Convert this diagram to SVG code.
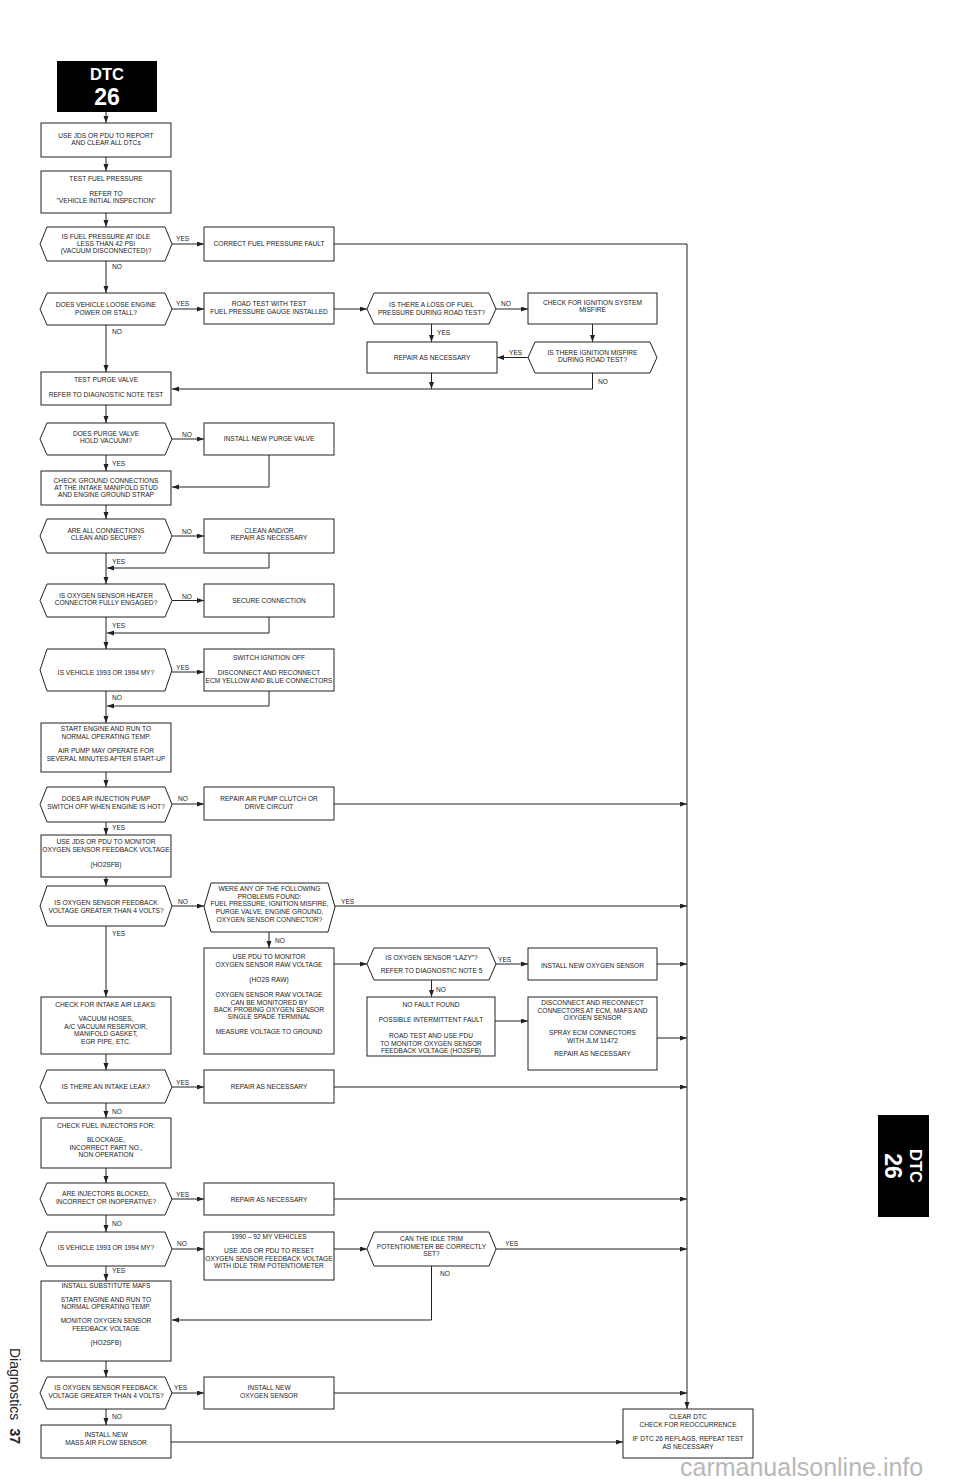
<svg xmlns="http://www.w3.org/2000/svg" width="960" height="1484" viewBox="0 0 960 1484">
<style>
.bx{fill:#fff;stroke:#222;stroke-width:1}
.t{font-family:"Liberation Sans",Arial,sans-serif;font-size:6.6px;fill:#1a1a1a;text-anchor:middle}
.l{font-family:"Liberation Sans",Arial,sans-serif;font-size:6.6px;fill:#1a1a1a;text-anchor:start}
.c{fill:none;stroke:#222;stroke-width:1}
.a{marker-end:url(#ah)}
.hd{font-family:"Liberation Sans",Arial,sans-serif;font-weight:bold;fill:#fff;text-anchor:middle}
</style>
<defs>
<marker id="ah" markerUnits="userSpaceOnUse" markerWidth="8" markerHeight="6" refX="7" refY="2.5" orient="auto">
<path d="M0,0 L7,2.5 L0,5 z" fill="#222"/>
</marker>
</defs>
<rect width="960" height="1484" fill="#fff"/>

<!-- header -->
<g id="hdr">
<rect x="57" y="61" width="100" height="51" fill="#000"/>
<text class="hd" x="107" y="80" font-size="16.5">DTC</text>
<text class="hd" x="107" y="105" font-size="23">26</text>
</g>

<g id="tab" transform="translate(903.5,1166) rotate(90)">
<rect x="-51" y="-25.5" width="102" height="51" fill="#000"/>
<text class="hd" x="0" y="-6.5" font-size="16.5">DTC</text>
<text class="hd" x="0" y="18.5" font-size="23">26</text>
</g>

<g id="footer" transform="translate(10,1348) rotate(90)">
<text font-family="Liberation Sans, Arial, sans-serif" font-size="14" fill="#222">Diagnostics<tspan dx="8" font-weight="bold">37</tspan></text>
</g>

<text x="680" y="1476" font-family="Liberation Sans, Arial, sans-serif" font-size="25" fill="#b8b8b8">carmanualsonline.info</text>

<!-- connectors -->
<g id="connectors">
<path class="c a" d="M106,112 V123"/>
<path class="c a" d="M106,157 V171"/>
<path class="c a" d="M106,213 V227"/>
<path class="c a" d="M172,244 H204"/>
<path class="c a" d="M334,244 H687 V1409"/>
<path class="c a" d="M106,261 V293"/>
<path class="c a" d="M172,309 H204"/>
<path class="c a" d="M334,309 H367"/>
<path class="c a" d="M496,309 H528"/>
<path class="c a" d="M592.5,324 V342"/>
<path class="c a" d="M528,357.5 H497"/>
<path class="c a" d="M431.5,324 V342"/>
<path class="c a" d="M592.5,373 V389 H172"/>
<path class="c a" d="M431.5,373 V389"/>
<path class="c a" d="M106,325 V372"/>
<path class="c a" d="M106,405 V423"/>
<path class="c a" d="M172,439 H204"/>
<path class="c a" d="M106,455 V471"/>
<path class="c a" d="M269,455 V487 H172"/>
<path class="c a" d="M106,505 V519"/>
<path class="c a" d="M172,536 H204"/>
<path class="c a" d="M106,553 V584"/>
<path class="c a" d="M269,553 V568 H107"/>
<path class="c a" d="M172,600.5 H204"/>
<path class="c a" d="M106,617 V649"/>
<path class="c a" d="M269,617 V633 H107"/>
<path class="c a" d="M172,672 H204"/>
<path class="c a" d="M106,691 V723"/>
<path class="c a" d="M269,691 V706 H107"/>
<path class="c a" d="M106,772 V787"/>
<path class="c a" d="M172,804 H204"/>
<path class="c a" d="M334,804 H687"/>
<path class="c a" d="M106,822 V835"/>
<path class="c a" d="M106,877 V886"/>
<path class="c a" d="M172,906 H204"/>
<path class="c a" d="M335,906 H687"/>
<path class="c a" d="M269,932 V948"/>
<path class="c a" d="M334,964 H367"/>
<path class="c a" d="M496,964 H528"/>
<path class="c a" d="M657,964 H687"/>
<path class="c a" d="M431.5,980 V997"/>
<path class="c a" d="M495,1021 H528"/>
<path class="c a" d="M657,1038 H687"/>
<path class="c a" d="M106,926 V997"/>
<path class="c a" d="M106,1054 V1070"/>
<path class="c a" d="M172,1087 H204"/>
<path class="c a" d="M334,1087 H687"/>
<path class="c a" d="M106,1103 V1118"/>
<path class="c a" d="M106,1168 V1183"/>
<path class="c a" d="M172,1199 H204"/>
<path class="c a" d="M334,1199 H687"/>
<path class="c a" d="M106,1215 V1232"/>
<path class="c a" d="M172,1249 H204"/>
<path class="c a" d="M334,1249 H367"/>
<path class="c a" d="M496,1249 H687"/>
<path class="c a" d="M431.5,1266 V1320 H172"/>
<path class="c a" d="M106,1266 V1281"/>
<path class="c a" d="M106,1361 V1377"/>
<path class="c a" d="M172,1393 H204"/>
<path class="c a" d="M334,1393 H687"/>
<path class="c a" d="M106,1409 V1425"/>
<path class="c a" d="M171,1442 H623"/>
<text class="l" x="176" y="241">YES</text>
<text class="l" x="112" y="268.5">NO</text>
<text class="l" x="176" y="306">YES</text>
<text class="l" x="112" y="333.5">NO</text>
<text class="l" x="501" y="306">NO</text>
<text class="l" x="437" y="334.5">YES</text>
<text class="l" x="509" y="354.5">YES</text>
<text class="l" x="598" y="383.5">NO</text>
<text class="l" x="182" y="436.5">NO</text>
<text class="l" x="112" y="465.5">YES</text>
<text class="l" x="182" y="533.5">NO</text>
<text class="l" x="112" y="563.5">YES</text>
<text class="l" x="182" y="598.5">NO</text>
<text class="l" x="112" y="627.5">YES</text>
<text class="l" x="176" y="669.5">YES</text>
<text class="l" x="112" y="699.5">NO</text>
<text class="l" x="178" y="801">NO</text>
<text class="l" x="112" y="829.5">YES</text>
<text class="l" x="178" y="903.5">NO</text>
<text class="l" x="112" y="935.5">YES</text>
<text class="l" x="341" y="903.5">YES</text>
<text class="l" x="275" y="942.5">NO</text>
<text class="l" x="498" y="962">YES</text>
<text class="l" x="436" y="991.5">NO</text>
<text class="l" x="176" y="1084.5">YES</text>
<text class="l" x="112" y="1113.5">NO</text>
<text class="l" x="176" y="1196.5">YES</text>
<text class="l" x="112" y="1225.5">NO</text>
<text class="l" x="177" y="1245.5">NO</text>
<text class="l" x="112" y="1272.5">YES</text>
<text class="l" x="505" y="1245.5">YES</text>
<text class="l" x="440" y="1275.5">NO</text>
<text class="l" x="174" y="1389.5">YES</text>
<text class="l" x="112" y="1418.5">NO</text>
</g>

<!-- nodes -->
<g id="n1"><rect class="bx" x="41" y="123" width="130" height="34"/>
<text class="t" x="106" y="137.5">USE JDS OR PDU TO REPORT</text>
<text class="t" x="106" y="145">AND CLEAR ALL DTCs</text></g>

<g id="n2"><rect class="bx" x="41" y="171" width="130" height="42"/>
<text class="t" x="106" y="180.5">TEST FUEL PRESSURE</text>
<text class="t" x="106" y="195.5">REFER TO</text>
<text class="t" x="106" y="203">"VEHICLE INITIAL INSPECTION"</text></g>

<g id="d1"><path class="bx" d="M40,244 L47,227 L165,227 L172,244 L165,261 L47,261 Z"/>
<text class="t" x="106" y="239.4">IS FUEL PRESSURE AT IDLE</text>
<text class="t" x="106" y="246.4">LESS THAN 42 PSI</text>
<text class="t" x="106" y="253.4">(VACUUM DISCONNECTED)?</text></g>

<g id="n3"><rect class="bx" x="204" y="227" width="130" height="34"/>
<text class="t" x="269" y="246.4">CORRECT FUEL PRESSURE FAULT</text></g>

<g id="d2"><path class="bx" d="M40,309 L47,293 L165,293 L172,309 L165,325 L47,325 Z"/>
<text class="t" x="106" y="307">DOES VEHICLE LOOSE ENGINE</text>
<text class="t" x="106" y="314.5">POWER OR STALL?</text></g>

<g id="n4"><rect class="bx" x="204" y="293" width="130" height="31"/>
<text class="t" x="269" y="306">ROAD TEST WITH TEST</text>
<text class="t" x="269" y="313.5">FUEL PRESSURE GAUGE INSTALLED</text></g>

<g id="d3"><path class="bx" d="M367,309 L374,293 L489,293 L496,309 L489,324 L374,324 Z"/>
<text class="t" x="431.5" y="307">IS THERE A LOSS OF FUEL</text>
<text class="t" x="431.5" y="314.5">PRESSURE DURING ROAD TEST?</text></g>

<g id="n5"><rect class="bx" x="528" y="293" width="129" height="31"/>
<text class="t" x="592.5" y="305">CHECK FOR IGNITION SYSTEM</text>
<text class="t" x="592.5" y="312">MISFIRE</text></g>

<g id="n6"><rect class="bx" x="367" y="342" width="130" height="31"/>
<text class="t" x="432" y="359.5">REPAIR AS NECESSARY</text></g>

<g id="d4"><path class="bx" d="M528,357.5 L535,342 L650,342 L657,357.5 L650,373 L535,373 Z"/>
<text class="t" x="592.5" y="355">IS THERE IGNITION MISFIRE</text>
<text class="t" x="592.5" y="362">DURING ROAD TEST?</text></g>

<g id="n7"><rect class="bx" x="41" y="372" width="130" height="33"/>
<text class="t" x="106" y="381.5">TEST PURGE VALVE</text>
<text class="t" x="106" y="396.5">REFER TO DIAGNOSTIC NOTE TEST</text></g>

<g id="d5"><path class="bx" d="M40,439 L47,423 L165,423 L172,439 L165,455 L47,455 Z"/>
<text class="t" x="106" y="436.4">DOES PURGE VALVE</text>
<text class="t" x="106" y="443.4">HOLD VACUUM?</text></g>

<g id="n8"><rect class="bx" x="204" y="423" width="130" height="32"/>
<text class="t" x="269" y="441.4">INSTALL NEW PURGE VALVE</text></g>

<g id="n9"><rect class="bx" x="41" y="471" width="130" height="34"/>
<text class="t" x="106" y="482.5">CHECK GROUND CONNECTIONS</text>
<text class="t" x="106" y="489.5">AT THE INTAKE MANIFOLD STUD</text>
<text class="t" x="106" y="496.5">AND ENGINE GROUND STRAP</text></g>

<g id="d6"><path class="bx" d="M40,536 L47,519 L165,519 L172,536 L165,553 L47,553 Z"/>
<text class="t" x="106" y="533.4">ARE ALL CONNECTIONS</text>
<text class="t" x="106" y="540.4">CLEAN AND SECURE?</text></g>

<g id="n10"><rect class="bx" x="204" y="519" width="130" height="34"/>
<text class="t" x="269" y="533.4">CLEAN AND/OR</text>
<text class="t" x="269" y="540.4">REPAIR AS NECESSARY</text></g>

<g id="d7"><path class="bx" d="M40,600.5 L47,584 L165,584 L172,600.5 L165,617 L47,617 Z"/>
<text class="t" x="106" y="598.4">IS OXYGEN SENSOR HEATER</text>
<text class="t" x="106" y="605.4">CONNECTOR FULLY ENGAGED?</text></g>

<g id="n11"><rect class="bx" x="204" y="584" width="130" height="33"/>
<text class="t" x="269" y="602.5">SECURE CONNECTION</text></g>

<g id="d8"><path class="bx" d="M40,670 L47,649 L165,649 L172,670 L165,691 L47,691 Z"/>
<text class="t" x="106" y="674.5">IS VEHICLE 1993 OR 1994 MY?</text></g>

<g id="n12"><rect class="bx" x="204" y="649" width="130" height="42"/>
<text class="t" x="269" y="660.4">SWITCH IGNITION OFF</text>
<text class="t" x="269" y="675.4">DISCONNECT AND RECONNECT</text>
<text class="t" x="269" y="682.6">ECM YELLOW AND BLUE CONNECTORS</text></g>

<g id="n13"><rect class="bx" x="41" y="723" width="130" height="49"/>
<text class="t" x="106" y="731.4">START ENGINE AND RUN TO</text>
<text class="t" x="106" y="739.2">NORMAL OPERATING TEMP.</text>
<text class="t" x="106" y="753.4">AIR PUMP MAY OPERATE FOR</text>
<text class="t" x="106" y="761">SEVERAL MINUTES AFTER START-UP</text></g>

<g id="d9"><path class="bx" d="M40,804.5 L47,787 L165,787 L172,804.5 L165,822 L47,822 Z"/>
<text class="t" x="106" y="801">DOES AIR INJECTION PUMP</text>
<text class="t" x="106" y="808.6">SWITCH OFF WHEN ENGINE IS HOT?</text></g>

<g id="n14"><rect class="bx" x="204" y="787" width="130" height="33"/>
<text class="t" x="269" y="801.4">REPAIR AIR PUMP CLUTCH OR</text>
<text class="t" x="269" y="809.4">DRIVE CIRCUIT</text></g>

<g id="n15"><rect class="bx" x="41" y="835" width="130" height="42"/>
<text class="t" x="106" y="844.4">USE JDS OR PDU TO MONITOR</text>
<text class="t" x="106" y="852.4">OXYGEN SENSOR FEEDBACK VOLTAGE</text>
<text class="t" x="106" y="867.4">(HO2SFB)</text></g>

<g id="d10"><path class="bx" d="M40,906 L47,886 L165,886 L172,906 L165,926 L47,926 Z"/>
<text class="t" x="106" y="905.4">IS OXYGEN SENSOR FEEDBACK</text>
<text class="t" x="106" y="912.6">VOLTAGE GREATER THAN 4 VOLTS?</text></g>

<g id="d11"><path class="bx" d="M204,907 L211,883 L328,883 L335,907 L328,932 L211,932 Z"/>
<text class="t" x="269.5" y="891.4">WERE ANY OF THE FOLLOWING</text>
<text class="t" x="269.5" y="898.6">PROBLEMS FOUND:</text>
<text class="t" x="269.5" y="906.4">FUEL PRESSURE, IGNITION MISFIRE,</text>
<text class="t" x="269.5" y="914.4">PURGE VALVE, ENGINE GROUND,</text>
<text class="t" x="269.5" y="922.4">OXYGEN SENSOR CONNECTOR?</text></g>

<g id="n16"><rect class="bx" x="204" y="948" width="130" height="106"/>
<text class="t" x="269" y="959.4">USE PDU TO MONITOR</text>
<text class="t" x="269" y="966.6">OXYGEN SENSOR RAW VOLTAGE</text>
<text class="t" x="269" y="982.4">(HO2S RAW)</text>
<text class="t" x="269" y="997.4">OXYGEN SENSOR RAW VOLTAGE</text>
<text class="t" x="269" y="1004.6">CAN BE MONITORED BY</text>
<text class="t" x="269" y="1011.8">BACK PROBING OXYGEN SENSOR</text>
<text class="t" x="269" y="1019">SINGLE SPADE TERMINAL</text>
<text class="t" x="269" y="1033.6">MEASURE VOLTAGE TO GROUND</text></g>

<g id="d12"><path class="bx" d="M367,964 L374,948 L489,948 L496,964 L489,980 L374,980 Z"/>
<text class="t" x="431.5" y="960.4">IS OXYGEN SENSOR “LAZY”?</text>
<text class="t" x="431.5" y="973.4">REFER TO DIAGNOSTIC NOTE 5</text></g>

<g id="n17"><rect class="bx" x="528" y="948" width="129" height="32"/>
<text class="t" x="592.5" y="968.4">INSTALL NEW OXYGEN SENSOR</text></g>

<g id="n18"><rect class="bx" x="367" y="997" width="128" height="59"/>
<text class="t" x="431" y="1007.4">NO FAULT FOUND</text>
<text class="t" x="431" y="1022.4">POSSIBLE INTERMITTENT FAULT</text>
<text class="t" x="431" y="1038.4">ROAD TEST AND USE PDU</text>
<text class="t" x="431" y="1045.6">TO MONITOR OXYGEN SENSOR</text>
<text class="t" x="431" y="1052.8">FEEDBACK VOLTAGE (HO2SFB)</text></g>

<g id="n19"><rect class="bx" x="528" y="997" width="129" height="73"/>
<text class="t" x="592.5" y="1005.4">DISCONNECT AND RECONNECT</text>
<text class="t" x="592.5" y="1012.6">CONNECTORS AT ECM, MAFS AND</text>
<text class="t" x="592.5" y="1019.8">OXYGEN SENSOR</text>
<text class="t" x="592.5" y="1035.4">SPRAY ECM CONNECTORS</text>
<text class="t" x="592.5" y="1042.6">WITH JLM 11472</text>
<text class="t" x="592.5" y="1056.4">REPAIR AS NECESSARY</text></g>

<g id="n20"><rect class="bx" x="41" y="997" width="130" height="57"/>
<text class="t" x="106" y="1007.4">CHECK FOR INTAKE AIR LEAKS:</text>
<text class="t" x="106" y="1021.4">VACUUM HOSES,</text>
<text class="t" x="106" y="1028.8">A/C VACUUM RESERVOIR,</text>
<text class="t" x="106" y="1036.2">MANIFOLD GASKET,</text>
<text class="t" x="106" y="1043.6">EGR PIPE, ETC.</text></g>

<g id="d13"><path class="bx" d="M40,1087 L47,1070 L165,1070 L172,1087 L165,1103 L47,1103 Z"/>
<text class="t" x="106" y="1089.4">IS THERE AN INTAKE LEAK?</text></g>

<g id="n21"><rect class="bx" x="204" y="1070" width="130" height="33"/>
<text class="t" x="269" y="1089.4">REPAIR AS NECESSARY</text></g>

<g id="n22"><rect class="bx" x="41" y="1118" width="130" height="50"/>
<text class="t" x="106" y="1128.4">CHECK FUEL INJECTORS FOR:</text>
<text class="t" x="106" y="1142.4">BLOCKAGE,</text>
<text class="t" x="106" y="1149.6">INCORRECT PART NO.,</text>
<text class="t" x="106" y="1156.8">NON OPERATION</text></g>

<g id="d14"><path class="bx" d="M40,1199 L47,1183 L165,1183 L172,1199 L165,1215 L47,1215 Z"/>
<text class="t" x="106" y="1196.4">ARE INJECTORS BLOCKED,</text>
<text class="t" x="106" y="1204">INCORRECT OR INOPERATIVE?</text></g>

<g id="n23"><rect class="bx" x="204" y="1183" width="130" height="32"/>
<text class="t" x="269" y="1202">REPAIR AS NECESSARY</text></g>

<g id="d15"><path class="bx" d="M40,1249 L47,1232 L165,1232 L172,1249 L165,1266 L47,1266 Z"/>
<text class="t" x="106" y="1250.4">IS VEHICLE 1993 OR 1994 MY?</text></g>

<g id="n24"><rect class="bx" x="204" y="1232" width="130" height="48"/>
<text class="t" x="269" y="1239.4">1990 – 92 MY VEHICLES</text>
<text class="t" x="269" y="1253.4">USE JDS OR PDU TO RESET</text>
<text class="t" x="269" y="1260.8">OXYGEN SENSOR FEEDBACK VOLTAGE</text>
<text class="t" x="269" y="1268.2">WITH IDLE TRIM POTENTIOMETER</text></g>

<g id="d16"><path class="bx" d="M367,1249 L374,1232 L489,1232 L496,1249 L489,1266 L374,1266 Z"/>
<text class="t" x="431.5" y="1241.4">CAN THE IDLE TRIM</text>
<text class="t" x="431.5" y="1248.6">POTENTIOMETER BE CORRECTLY</text>
<text class="t" x="431.5" y="1255.8">SET?</text></g>

<g id="n25"><rect class="bx" x="41" y="1281" width="130" height="80"/>
<text class="t" x="106" y="1288.4">INSTALL SUBSTITUTE MAFS</text>
<text class="t" x="106" y="1302">START ENGINE AND RUN TO</text>
<text class="t" x="106" y="1309.4">NORMAL OPERATING TEMP.</text>
<text class="t" x="106" y="1323.4">MONITOR OXYGEN SENSOR</text>
<text class="t" x="106" y="1330.6">FEEDBACK VOLTAGE</text>
<text class="t" x="106" y="1345.4">(HO2SFB)</text></g>

<g id="d17"><path class="bx" d="M40,1393 L47,1377 L165,1377 L172,1393 L165,1409 L47,1409 Z"/>
<text class="t" x="106" y="1390.4">IS OXYGEN SENSOR FEEDBACK</text>
<text class="t" x="106" y="1397.8">VOLTAGE GREATER THAN 4 VOLTS?</text></g>

<g id="n26"><rect class="bx" x="204" y="1377" width="130" height="32"/>
<text class="t" x="269" y="1390.4">INSTALL NEW</text>
<text class="t" x="269" y="1398">OXYGEN SENSOR</text></g>

<g id="n27"><rect class="bx" x="41" y="1425" width="130" height="33"/>
<text class="t" x="106" y="1437.4">INSTALL NEW</text>
<text class="t" x="106" y="1444.6">MASS AIR FLOW SENSOR</text></g>

<g id="n28"><rect class="bx" x="623" y="1409" width="130" height="49"/>
<text class="t" x="688" y="1419.4">CLEAR DTC</text>
<text class="t" x="688" y="1426.6">CHECK FOR REOCCURRENCE</text>
<text class="t" x="688" y="1441.4">IF DTC 26 REFLAGS, REPEAT TEST</text>
<text class="t" x="688" y="1448.6">AS NECESSARY</text></g>
</svg>
